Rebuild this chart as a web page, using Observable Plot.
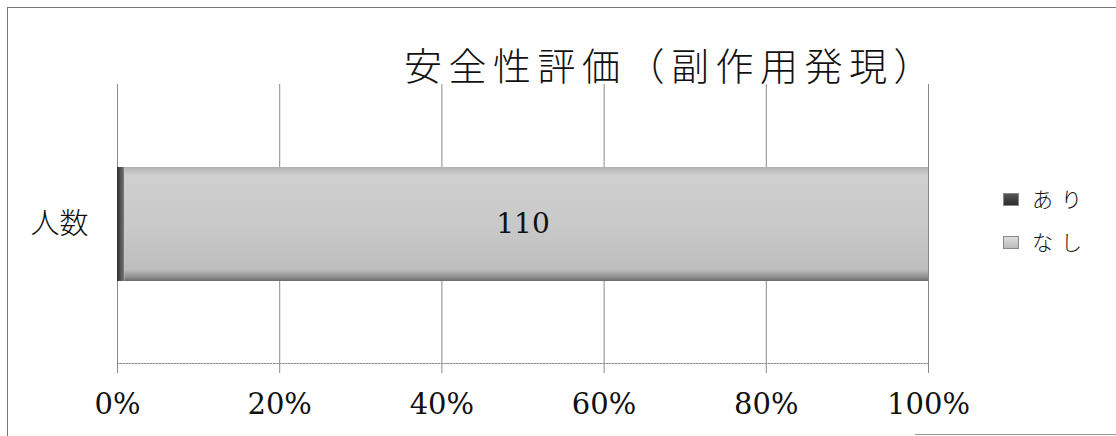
<!DOCTYPE html>
<html>
<head>
<meta charset="utf-8">
<script src="https://cdn.jsdelivr.net/npm/d3@7"></script>
<script src="https://cdn.jsdelivr.net/npm/@observablehq/plot@0.6"></script>
<style>
  html, body { margin: 0; padding: 0; background: #fff; }
  #wrap { position: relative; width: 1116px; height: 436px; overflow: hidden; }
  #frameL { position: absolute; left: 7px; top: 7px; width: 1px; height: 429px; background: #777; }
  #frameT { position: absolute; left: 7px; top: 7px; width: 1109px; height: 1px; background: #777; }
  #frameB { position: absolute; left: 915px; top: 434px; width: 201px; height: 1px; background: #999; }
  #title { position: absolute; left: 404px; top: 44px; font-family: "Noto Sans CJK JP", sans-serif; font-size: 38px; line-height: 40px; letter-spacing: 6.5px; color: #111; white-space: nowrap; font-weight: 300; }
  .leg { position: absolute; left: 1003px; font-family: "Noto Sans CJK JP", sans-serif; font-size: 21px; line-height: 24px; letter-spacing: 8px; color: #111; white-space: nowrap; font-weight: 300; }
  .leg span.sw { display: inline-block; width: 14px; height: 11px; margin-right: 13px; vertical-align: 1px; }
  #plot { position: absolute; left: 0; top: 0; }
</style>
</head>
<body>
<div id="wrap">
  <div id="plot"></div>
  <div id="frameL"></div>
  <div id="frameT"></div>
  <div id="frameB"></div>
  <div id="title"></div>
  <div id="legend"></div>
</div>
<script>
// ---- data ----
const titleText = "安全性評価（副作用発現）";
const categories = ["人数"];
const seriesNames = ["あり", "なし"];
const seriesValues = [1, 110];   // あり, なし (people)
const tickValues = [0, 0.2, 0.4, 0.6, 0.8, 1.0];
const tickLabels = ["0%", "20%", "40%", "60%", "80%", "100%"];
const seriesFills = ["url(#gradAri)", "url(#gradNashi)"];

const data = seriesNames.map((s, i) => ({cat: categories[0], series: s, value: seriesValues[i]}));

document.getElementById("title").textContent = titleText;

const chart = Plot.plot({
  width: 1116,
  height: 436,
  marginLeft: 117,
  marginRight: 188,
  marginTop: 84,
  marginBottom: 73,
  style: {fontFamily: "'DejaVu Serif', 'Noto Sans CJK JP', serif", color: "#111", background: "transparent"},
  x: {domain: [0, 1]},
  y: {domain: categories, padding: 0.42},
  color: {domain: seriesNames, range: seriesFills},
  marks: [
    Plot.gridX(tickValues, {stroke: "#8a8a8a", strokeOpacity: 1, strokeWidth: 1}),
    Plot.frame({anchor: "bottom", stroke: "#8a8a8a", strokeDasharray: "1.5,1.5"}),
    Plot.barX(data, Plot.stackX({x: "value", y: "cat", z: "series", fill: "series", order: seriesNames, offset: "normalize"})),
    Plot.text(data, Plot.stackX({x: "value", y: "cat", z: "series", order: seriesNames, offset: "normalize",
      text: "value", filter: d => d.series === "なし", fontSize: 28, fill: "#111", fontFamily: "'DejaVu Serif', serif"})),
    Plot.axisX({ticks: tickValues, tickFormat: (d) => tickLabels[tickValues.indexOf(d)], tickSize: 10, tickPadding: 20,
      stroke: "#8a8a8a", fontSize: 29, label: null, fill: "#111"}),
    Plot.axisY({tickSize: 0, tickPadding: 29, fontSize: 29, label: null, fontFamily: "'Noto Sans CJK JP', sans-serif", fontWeight: 300})
  ]
});

// gradients for the bar fills
const ns = "http://www.w3.org/2000/svg";
const defs = document.createElementNS(ns, "defs");
defs.innerHTML = `
  <linearGradient id="gradNashi" x1="0" y1="0" x2="0" y2="1">
    <stop offset="0" stop-color="#b0b0b0"/>
    <stop offset="0.07" stop-color="#cfcfcf"/>
    <stop offset="0.5" stop-color="#c9c9c9"/>
    <stop offset="0.9" stop-color="#bdbdbd"/>
    <stop offset="0.97" stop-color="#8c8c8c"/>
    <stop offset="1" stop-color="#6a6a6a"/>
  </linearGradient>
  <linearGradient id="gradAri" x1="0" y1="0" x2="1" y2="0">
    <stop offset="0" stop-color="#2e2e2e"/>
    <stop offset="1" stop-color="#7a7a7a"/>
  </linearGradient>`;
chart.insertBefore(defs, chart.firstChild);
document.getElementById("plot").appendChild(chart);

// legend
const legendSw = ["linear-gradient(#555,#2e2e2e)", "linear-gradient(#ddd,#bbb)"];
const leg = document.getElementById("legend");
const legTops = [186, 229];
seriesNames.forEach((s, i) => {
  const div = document.createElement("div");
  div.className = "leg";
  div.style.top = legTops[i] + "px";
  const sw = document.createElement("span");
  sw.className = "sw";
  sw.style.background = legendSw[i];
  sw.style.border = "1px solid #888";
  div.appendChild(sw);
  div.appendChild(document.createTextNode(s));
  leg.appendChild(div);
});
</script>
</body>
</html>
